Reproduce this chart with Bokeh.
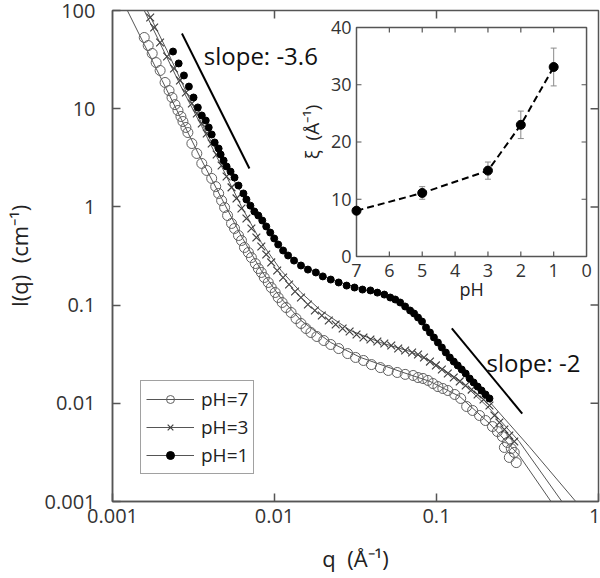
import numpy as np
from bokeh.plotting import figure
from bokeh.models import Range1d, LinearScale, FixedTicker, Legend, LegendItem
from bokeh.core.properties import value
from bokeh.embed import file_html
from bokeh.resources import INLINE

FONT = "Open Sans"
AX = "#555555"
TXT = "#333333"

# ---------------- main plot data: I(q) ----------------
q_ph7 = [0.001570, 0.001661, 0.001758, 0.001860, 0.001968, 0.002111, 0.002234, 0.002330, 0.002431, 0.002536,
         0.002645, 0.002721, 0.002839, 0.002920, 0.003090, 0.003315, 0.003557, 0.003817, 0.004096, 0.004335,
         0.004521, 0.004716, 0.004920, 0.005132, 0.005430, 0.005665, 0.005994, 0.006253, 0.006523, 0.006901,
         0.007200, 0.007618, 0.007947, 0.008290, 0.008648, 0.009150, 0.009546, 0.01010, 0.01054, 0.01115,
         0.01179, 0.01266, 0.01358, 0.01457, 0.01564, 0.01678, 0.01826, 0.02015, 0.02224, 0.02490,
         0.02828, 0.03165, 0.03543, 0.03966, 0.04502, 0.05040, 0.05722, 0.06406, 0.07172, 0.07692,
         0.08255, 0.08858, 0.09506, 0.1020, 0.1094, 0.1175, 0.1297, 0.1411, 0.1535, 0.1671,
         0.1844, 0.2007, 0.2215, 0.2377, 0.2550, 0.2624, 0.2736, 0.2815, 0.2895, 0.3020, 0.3107]
I_ph7 = [53.1, 44.0, 36.5, 29.5, 24.5, 18.5, 15.3, 13.0, 11.0, 9.59,
         8.33, 7.41, 6.44, 5.72, 4.42, 3.50, 2.77, 2.35, 1.95, 1.61,
         1.37, 1.16, 0.986, 0.817, 0.678, 0.603, 0.511, 0.455, 0.386, 0.343,
         0.305, 0.265, 0.236, 0.215, 0.191, 0.170, 0.151, 0.1344, 0.1195, 0.1063,
         0.0945, 0.0841, 0.0730, 0.0650, 0.0578, 0.0526, 0.0479, 0.0436, 0.0397, 0.0361,
         0.0321, 0.0293, 0.0273, 0.0248, 0.0231, 0.0216, 0.0206, 0.0197, 0.0192, 0.0183,
         0.0179, 0.0171, 0.0159, 0.0148, 0.01415, 0.0135, 0.0123, 0.0112, 0.00928, 0.00845,
         0.00751, 0.00668, 0.00580, 0.00516, 0.00459, 0.00355, 0.00399, 0.00281, 0.00346, 0.00316, 0.00249]

q_ph3 = [0.001709, 0.001808, 0.001967, 0.002172, 0.002397, 0.002609, 0.002838, 0.003090, 0.003315, 0.003557,
         0.003817, 0.004096, 0.004395, 0.004716, 0.005060, 0.005430, 0.005827, 0.006252, 0.006710, 0.007200,
         0.007726, 0.008291, 0.008893, 0.009545, 0.01039, 0.01130, 0.01230, 0.01339, 0.01457, 0.01608,
         0.01775, 0.01959, 0.02163, 0.02386, 0.02634, 0.02908, 0.03209, 0.03542, 0.03910, 0.04315,
         0.04763, 0.05257, 0.05802, 0.06405, 0.07067, 0.07691, 0.08371, 0.09112, 0.09915, 0.1079,
         0.1174, 0.1278, 0.1391, 0.1514, 0.1648, 0.1793, 0.1951, 0.2123, 0.2278, 0.2444,
         0.2624, 0.2814, 0.3020]
I_ph3 = [84.9, 67.1, 47.2, 34.0, 25.7, 19.4, 14.6, 11.3, 8.94, 7.07,
         5.59, 4.42, 3.42, 2.64, 2.04, 1.58, 1.22, 0.963, 0.762, 0.603,
         0.488, 0.395, 0.328, 0.272, 0.225, 0.191, 0.162, 0.1376, 0.1195, 0.1014,
         0.0881, 0.0783, 0.0697, 0.0634, 0.0578, 0.0538, 0.0502, 0.0468, 0.0446, 0.0426,
         0.0406, 0.0388, 0.0361, 0.0345, 0.0329, 0.0314, 0.0293, 0.0266, 0.0243, 0.0221,
         0.0201, 0.0183, 0.0167, 0.0152, 0.0138, 0.0123, 0.01093, 0.00950, 0.00751, 0.00637,
         0.00541, 0.00470, 0.00408]

q_ph1 = [0.002363, 0.002561, 0.002760, 0.002961, 0.003164, 0.003362, 0.003557, 0.003764, 0.003926, 0.004096,
         0.004272, 0.004519, 0.004650, 0.004851, 0.005060, 0.005355, 0.005665, 0.005994, 0.006430, 0.006710,
         0.007099, 0.007510, 0.007946, 0.008406, 0.008893, 0.009412, 0.009959, 0.01054, 0.01130, 0.01213,
         0.01320, 0.01457, 0.01608, 0.01800, 0.01987, 0.02224, 0.02489, 0.02787, 0.03119, 0.03492,
         0.03910, 0.04315, 0.04763, 0.05183, 0.05563, 0.05968, 0.06405, 0.06873, 0.07273, 0.07691,
         0.08137, 0.08612, 0.09112, 0.09641, 0.1020, 0.1079, 0.1142, 0.1208, 0.1278, 0.1352,
         0.1431, 0.1514, 0.1602, 0.1694, 0.1793, 0.1897, 0.2006, 0.2123]
I_ph1 = [38.2, 28.9, 21.8, 16.8, 13.0, 10.3, 8.53, 7.58, 6.44, 5.46,
         4.53, 3.93, 3.42, 2.97, 2.58, 2.29, 1.99, 1.65, 1.37, 1.19,
         1.03, 0.898, 0.817, 0.727, 0.632, 0.548, 0.477, 0.414, 0.360, 0.320,
         0.284, 0.253, 0.230, 0.215, 0.196, 0.182, 0.170, 0.158, 0.151, 0.144,
         0.141, 0.134, 0.128, 0.1195, 0.114, 0.1063, 0.0968, 0.0881, 0.0821, 0.0747,
         0.0681, 0.0591, 0.0526, 0.0468, 0.0416, 0.0370, 0.0329, 0.0293, 0.0266, 0.0243,
         0.0221, 0.0201, 0.0179, 0.0163, 0.0148, 0.0135, 0.0123, 0.0112]

# fitted curves
fit_q_ph7 = [0.001235, 0.001570, 0.002024, 0.002683, 0.003557, 0.004716, 0.006253, 0.008290, 0.01099,
             0.01457, 0.02224, 0.03396, 0.05968, 0.09112, 0.1391, 0.2123, 0.3241, 0.5090]
fit_I_ph7 = [100, 45.1, 19.4, 7.58, 2.97, 1.22, 0.500, 0.225, 0.1168,
             0.0697, 0.0416, 0.0293, 0.0211, 0.0167, 0.01173, 0.00623, 0.00294, 0.001]
fit_q_ph3 = [0.001570, 0.002024, 0.002683, 0.003557, 0.004716, 0.006253, 0.008290, 0.01099, 0.01457,
             0.01932, 0.02949, 0.04502, 0.06873, 0.09112, 0.1391, 0.2123, 0.3241, 0.5943]
fit_I_ph3 = [100, 42.0, 16.1, 6.59, 2.58, 1.01, 0.434, 0.225, 0.1344,
             0.0881, 0.0551, 0.0416, 0.0337, 0.0273, 0.0171, 0.00885, 0.00408, 0.001]
fit_q_ph1 = [0.001638, 0.002172, 0.002879, 0.003817, 0.005060, 0.006710, 0.008893, 0.01179, 0.01457,
             0.02224, 0.03543, 0.05183, 0.06873, 0.09112, 0.1208, 0.1601, 0.2123, 0.3733, 0.7240]
fit_I_ph1 = [100, 39.1, 14.3, 5.59, 2.46, 1.16, 0.632, 0.335, 0.259,
             0.182, 0.144, 0.1195, 0.0902, 0.0538, 0.0300, 0.0175, 0.0104, 0.00363, 0.001]

# guide lines
slope36_q = [0.002683, 0.00700]
slope36_I = [58.3, 2.46]
slope2_q = [0.1243, 0.3382]
slope2_I = [0.0578, 0.00787]
slope_labels = ["slope: -3.6", "slope: -2"]
slope_label_q = [0.003659, 0.2035]
slope_label_I = [34.8, 0.0260]

main_xticks = [0.001, 0.01, 0.1, 1]
main_yticks = [0.001, 0.01, 0.1, 1, 10, 100]
main_xlabels = {0.001: "0.001", 0.01: "0.01", 0.1: "0.1", 1: "1"}
main_ylabels = {0.001: "0.001", 0.01: "0.01", 0.1: "0.1", 1: "1", 10: "10", 100: "100"}
legend_labels = ["pH=7", "pH=3", "pH=1"]

# ---------------- inset data: xi vs pH ----------------
inset_ph = [7, 5, 3, 2, 1]
inset_xi = [8.0, 11.1, 15.0, 23.0, 33.1]
inset_err = [0.5, 1.1, 1.5, 2.4, 3.3]
inset_xticks = [7, 6, 5, 4, 3, 2, 1, 0]
inset_yticks = [0, 10, 20, 30, 40]
inset_xlim = (7, 0)
inset_ylim = (0, 40)

# ---------------- figure ----------------
FRAME_W, FRAME_H = 488, 491
p = figure(width=600, height=578, x_axis_type="log", y_axis_type="log",
           x_range=Range1d(0.001, 1), y_range=Range1d(0.001, 100),
           output_backend="svg", toolbar_location=None,
           min_border_left=110, min_border_right=2, min_border_top=10, min_border_bottom=77)
p.background_fill_color = "white"
p.border_fill_color = "white"
p.outline_line_color = AX
p.outline_line_width = 1.5
p.xgrid.visible = False
p.ygrid.visible = False


def style_axis(ax, ticks):
    ax.ticker = FixedTicker(ticks=ticks, minor_ticks=[])
    ax.major_tick_in = 8
    ax.major_tick_out = 0
    ax.minor_tick_in = 0
    ax.minor_tick_out = 0
    ax.axis_line_color = AX
    ax.axis_line_width = 1.5
    ax.major_tick_line_color = AX
    ax.major_tick_line_width = 1.5


xa = p.xaxis[0]
style_axis(xa, main_xticks)
xa.major_label_overrides = main_xlabels
xa.major_label_text_font = FONT
xa.major_label_text_font_size = "20px"
xa.major_label_text_color = TXT
xa.major_label_standoff = 7
xa.axis_label = "q \u00a0(Å⁻¹)"
xa.axis_label_text_font = FONT
xa.axis_label_text_font_size = "22px"
xa.axis_label_text_font_style = "normal"
xa.axis_label_text_color = "#222222"
xa.axis_label_standoff = 17

ya = p.yaxis[0]
style_axis(ya, main_yticks)
ya.major_label_overrides = main_ylabels
ya.major_label_text_font = FONT
ya.major_label_text_font_size = "20px"
ya.major_label_text_color = TXT
ya.major_label_standoff = 17
ya.axis_label = "I(q) \u00a0(cm⁻¹)"
ya.axis_label_text_font = FONT
ya.axis_label_text_font_size = "22px"
ya.axis_label_text_font_style = "normal"
ya.axis_label_text_color = "#222222"
ya.axis_label_standoff = 8

# inward ticks on the top and right frame edges (8 px long)
top_tick_x = [t for t in main_xticks if t not in (0.001, 1)]
right_tick_y = [t for t in main_yticks if t not in (0.001, 100)]
p.segment(x0=top_tick_x, y0=[100] * len(top_tick_x), x1=top_tick_x,
          y1=[100 / 10 ** (8 * 5 / FRAME_H)] * len(top_tick_x), line_color=AX, line_width=1.5)
p.segment(x0=[1] * len(right_tick_y), y0=right_tick_y, x1=[10 ** (-8 * 3 / FRAME_W)] * len(right_tick_y),
          y1=right_tick_y, line_color=AX, line_width=1.5)

# fits and data
fit7 = p.line(fit_q_ph7, fit_I_ph7, line_color="#555555", line_width=1)
fit3 = p.line(fit_q_ph3, fit_I_ph3, line_color="#555555", line_width=1)
fit1 = p.line(fit_q_ph1, fit_I_ph1, line_color="#555555", line_width=1)
sc7 = p.scatter(q_ph7, I_ph7, marker="circle", size=10, fill_color=None,
                line_color="#606060", line_width=1)
sc3 = p.scatter(q_ph3, I_ph3, marker="x", size=11, line_color="#404040", line_width=1.2)
sc1 = p.scatter(q_ph1, I_ph1, marker="circle", size=7, fill_color="black", line_color="black")

p.line(slope36_q, slope36_I, line_color="black", line_width=2)
p.line(slope2_q, slope2_I, line_color="black", line_width=2)
p.text(x=slope_label_q, y=slope_label_I, text=slope_labels, text_font=value(FONT),
       text_font_size="24px", text_color="#111111", text_baseline="middle", text_align="left")

legend = Legend(items=[LegendItem(label=legend_labels[0], renderers=[fit7, sc7]),
                       LegendItem(label=legend_labels[1], renderers=[fit3, sc3]),
                       LegendItem(label=legend_labels[2], renderers=[fit1, sc1])],
                location=(28, 27))
legend.label_text_font = FONT
legend.label_text_font_size = "19px"
legend.label_text_color = "#222222"
legend.glyph_width = 48
legend.glyph_height = 20
legend.label_height = 20
legend.spacing = 2
legend.padding = 5
legend.margin = 0
legend.label_standoff = 7
legend.border_line_color = "#444444"
legend.border_line_width = 1.5
legend.background_fill_alpha = 1
p.add_layout(legend)

# ---------------- inset (own linear scales in the same frame) ----------------
IX = Range1d(14.4242, -0.3636)
IY = Range1d(-42.795, 42.969)
p.extra_x_ranges = {"inset": IX}
p.extra_y_ranges = {"inset": IY}
p.extra_x_scales = {"inset": LinearScale()}
p.extra_y_scales = {"inset": LinearScale()}
R = dict(x_range_name="inset", y_range_name="inset")
px_x = (IX.start - IX.end) / FRAME_W   # pH units per pixel
px_y = (IY.end - IY.start) / FRAME_H   # xi units per pixel
tick = 5

p.quad(left=[inset_xlim[0]], right=[inset_xlim[1]], bottom=[inset_ylim[0]], top=[inset_ylim[1]],
       fill_color="white", line_color=AX, line_width=1.5, **R)
inner_x = [t for t in inset_xticks if t not in inset_xlim]
inner_y = [t for t in inset_yticks if t not in inset_ylim]
p.segment(x0=inner_x, y0=[inset_ylim[0]] * len(inner_x), x1=inner_x,
          y1=[inset_ylim[0] + tick * px_y] * len(inner_x), line_color=AX, line_width=1.2, **R)
p.segment(x0=inner_x, y0=[inset_ylim[1]] * len(inner_x), x1=inner_x,
          y1=[inset_ylim[1] - tick * px_y] * len(inner_x), line_color=AX, line_width=1.2, **R)
p.segment(x0=[inset_xlim[0]] * len(inner_y), y0=inner_y, x1=[inset_xlim[0] - tick * px_x] * len(inner_y),
          y1=inner_y, line_color=AX, line_width=1.2, **R)
p.segment(x0=[inset_xlim[1]] * len(inner_y), y0=inner_y, x1=[inset_xlim[1] + tick * px_x] * len(inner_y),
          y1=inner_y, line_color=AX, line_width=1.2, **R)

p.text(x=inset_xticks, y=[inset_ylim[0]] * len(inset_xticks), text=[str(t) for t in inset_xticks],
       text_font=value(FONT), text_font_size="18px", text_color=TXT, text_align="center",
       text_baseline="middle", y_offset=14, **R)
p.text(x=[inset_xlim[0]] * len(inset_yticks), y=inset_yticks, text=[str(t) for t in inset_yticks],
       text_font=value(FONT), text_font_size="18px", text_color=TXT, text_align="right",
       text_baseline="middle", x_offset=-5, **R)
p.text(x=[3.5], y=[inset_ylim[0]], text=["pH"], text_font=value(FONT), text_font_size="18px",
       text_color="#222222", text_align="center", text_baseline="middle", y_offset=33, **R)
p.text(x=[inset_xlim[0]], y=[20], text=["ξ \u00a0(Å⁻¹)"], text_font=value(FONT), text_font_size="19px",
       text_color="#222222", text_align="center", text_baseline="middle", angle=np.pi / 2,
       x_offset=-44, y_offset=-10, **R)

lower = [v - e for v, e in zip(inset_xi, inset_err)]
upper = [v + e for v, e in zip(inset_xi, inset_err)]
p.segment(x0=inset_ph, y0=lower, x1=inset_ph, y1=upper, line_color="#8a8a8a", line_width=1, **R)
p.scatter(inset_ph + inset_ph, lower + upper, marker="dash", size=6, line_color="#8a8a8a",
          line_width=1, **R)
p.line(inset_ph, inset_xi, line_color="black", line_width=2, line_dash="7 4", **R)
p.scatter(inset_ph, inset_xi, marker="circle", size=9, fill_color="black", line_color="black", **R)

open("out.html", "w").write(file_html(p, INLINE))
